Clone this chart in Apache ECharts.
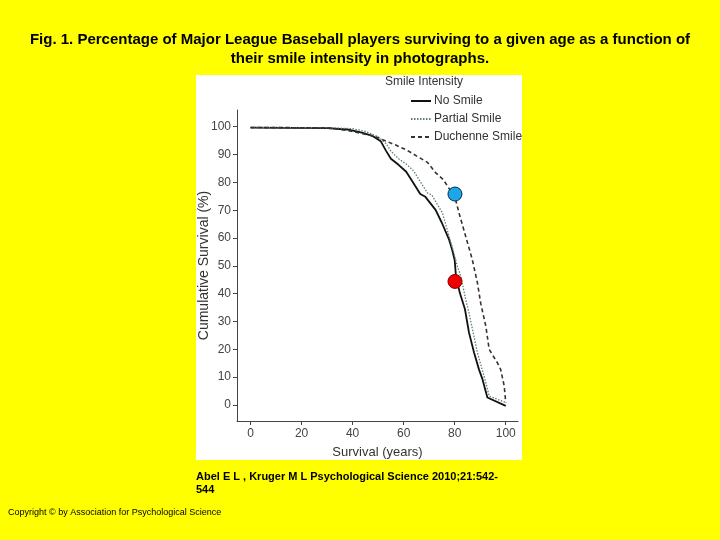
<!DOCTYPE html>
<html>
<head>
<meta charset="utf-8">
<script src="https://cdn.jsdelivr.net/npm/echarts@6/dist/echarts.min.js"></script>
<style>
html,body{margin:0;padding:0;background:#ffff00;}
#c{width:720px;height:540px;}
</style>
</head>
<body>
<div id="c"></div>
<script>
// Data
var seriesNames = ['No Smile', 'Partial Smile', 'Duchenne Smile'];
var noSmileAge = [0, 30, 38, 44, 48, 51, 53, 55, 58, 61, 63.5, 66.5, 68.5, 72.5, 75, 77.8, 79, 80, 80.5, 82, 84, 85.6, 87.6, 89.5, 90.9, 92.8, 100];
var noSmileVal = [99.7, 99.5, 99.0, 97.8, 96.6, 94.8, 91.5, 88.5, 86.3, 83.8, 80.2, 75.8, 74.8, 70.1, 65.4, 59.4, 55.8, 52, 46.2, 40.3, 34.5, 26, 18.8, 12.8, 9.2, 2.7, -0.3];
var partialAge = [0, 30, 40, 45, 50, 53, 55, 58, 61.4, 64, 66, 69.3, 71, 75.2, 77.8, 79.7, 81, 82.4, 84.3, 85.6, 88.9, 92.2, 93.5, 100];
var partialVal = [99.7, 99.6, 99.3, 98.3, 96.4, 94, 91.2, 88.5, 86.3, 84, 81, 76.2, 75.5, 69, 60.6, 54.6, 50, 46.2, 37.9, 33.1, 18.8, 8, 3.2, 0.9];
var duchenneAge = [0, 30, 39, 48.4, 56.9, 61.4, 65, 69.3, 72.5, 75.5, 78, 80, 81.7, 84.3, 86.9, 88.9, 90.2, 92.2, 93.5, 96.7, 98, 99.4, 100];
var duchenneVal = [99.7, 99.6, 98.5, 96.6, 93.4, 91.5, 89.5, 87.2, 83.5, 81, 77.5, 75, 69, 60.6, 52.2, 43.9, 36.5, 28.3, 20, 15.2, 12.8, 6.8, 0.9];
var markerBlue = [80.1, 75.8];
var markerRed = [80.1, 44.4];
var xTicks = [0, 20, 40, 60, 80, 100];
var yTicks = [0, 10, 20, 30, 40, 50, 60, 70, 80, 90, 100];
var titleLines = ['Fig. 1. Percentage of Major League Baseball players surviving to a given age as a function of', 'their smile intensity in photographs.'];
var citeLines = ['Abel E L , Kruger M L Psychological Science 2010;21:542-', '544'];
var copyrightText = 'Copyright \u00a9 by Association for Psychological Science';
var legendTitle = 'Smile Intensity';
var xName = 'Survival (years)';
var yName = 'Cumulative Survival (%)';

function zip(a, b) { return a.map(function (v, i) { return [v, b[i]]; }); }

var chart = echarts.init(document.getElementById('c'), null, {renderer: 'canvas'});
var font = 'Liberation Sans, Arial, sans-serif';
var option = {
  backgroundColor: '#ffff00',
  animation: false,
  textStyle: {fontFamily: font},
  graphic: [
    {type: 'rect', z: -10, shape: {x: 196, y: 75, width: 326, height: 385}, style: {fill: '#ffffff'}},
    {type: 'text', left: 'center', top: 32, style: {text: titleLines[0], font: 'bold 15px ' + font, fill: '#000'}},
    {type: 'text', left: 'center', top: 51, style: {text: titleLines[1], font: 'bold 15px ' + font, fill: '#000'}},
    {type: 'text', x: 196, y: 471, style: {text: citeLines[0], font: 'bold 11px ' + font, fill: '#000'}},
    {type: 'text', x: 196, y: 484, style: {text: citeLines[1], font: 'bold 11px ' + font, fill: '#000'}},
    {type: 'text', x: 8, y: 508, style: {text: copyrightText, font: '9px ' + font, fill: '#000'}},
    {type: 'text', x: 385, y: 76, style: {text: legendTitle, font: '12px ' + font, fill: '#333'}}
  ],
  legend: {
    data: seriesNames,
    orient: 'vertical',
    left: 410,
    top: 95,
    padding: 0,
    itemWidth: 20,
    itemHeight: 11,
    itemGap: 6,
    itemStyle: {opacity: 0},
    textStyle: {fontSize: 12, color: '#333', fontFamily: font, padding: [0, 0, 0, -2]}
  },
  grid: {left: 237, top: 110, right: 202, bottom: 119, containLabel: false},
  xAxis: {
    type: 'value', min: -5.3, max: 104.8,
    name: xName, nameLocation: 'middle', nameGap: 25, nameMoveOverlap: false,
    nameTextStyle: {fontSize: 13, color: '#333', fontFamily: font},
    axisLine: {show: true, onZero: false, lineStyle: {color: '#444', width: 1}},
    axisTick: {show: true, length: 4, customValues: xTicks, lineStyle: {color: '#444'}},
    axisLabel: {customValues: xTicks, fontSize: 12, color: '#444', margin: 7},
    splitLine: {show: false}
  },
  yAxis: {
    type: 'value', min: -5.75, max: 106,
    name: yName, nameLocation: 'middle', nameGap: 26, nameMoveOverlap: false,
    nameTextStyle: {fontSize: 14, color: '#333', fontFamily: font},
    axisLine: {show: true, onZero: false, lineStyle: {color: '#444', width: 1}},
    axisTick: {show: true, length: 4, customValues: yTicks, lineStyle: {color: '#444'}},
    axisLabel: {customValues: yTicks, fontSize: 12, color: '#444', margin: 6},
    splitLine: {show: false}
  },
  series: [
    {name: seriesNames[0], type: 'line', symbol: 'none', data: zip(noSmileAge, noSmileVal),
     lineStyle: {color: '#111', width: 1.8, type: 'solid'}, itemStyle: {color: '#111'}},
    {name: seriesNames[1], type: 'line', symbol: 'none', data: zip(partialAge, partialVal),
     lineStyle: {color: '#5f8070', width: 1.3, type: [1.5, 1.5]}, itemStyle: {color: '#5f8070'}},
    {name: seriesNames[2], type: 'line', symbol: 'none', data: zip(duchenneAge, duchenneVal),
     lineStyle: {color: '#333', width: 1.6, type: [4, 3]}, itemStyle: {color: '#333'}},
    {name: 'blue', type: 'scatter', symbol: 'circle', symbolSize: 14, data: [markerBlue], z: 5,
     itemStyle: {color: '#1ba7e8', borderColor: '#0b2a4a', borderWidth: 1, opacity: 1}},
    {name: 'red', type: 'scatter', symbol: 'circle', symbolSize: 14, data: [markerRed], z: 5,
     itemStyle: {color: '#ee0000', borderColor: '#8a0000', borderWidth: 1, opacity: 1}}
  ]
};
chart.setOption(option);
</script>
</body>
</html>
